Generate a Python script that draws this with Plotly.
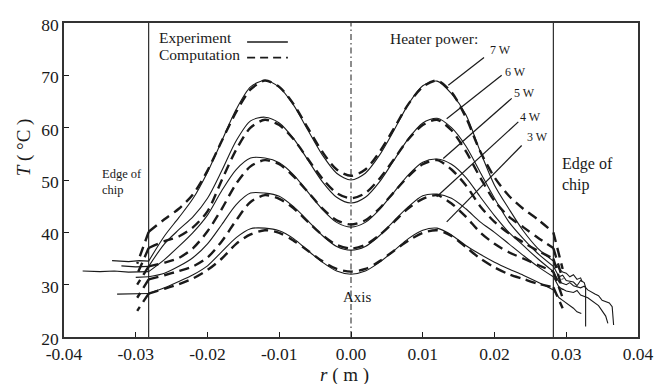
import plotly.graph_objects as go

# ---------------- data ----------------
R_GRID = [-0.0282, -0.026, -0.024, -0.022, -0.020, -0.018, -0.016, -0.014, -0.012, -0.010,
          -0.008, -0.006, -0.004, -0.002, 0.000, 0.002, 0.004, 0.006, 0.008, 0.010,
          0.012, 0.014, 0.016, 0.018, 0.020, 0.022, 0.024, 0.026, 0.0282]

POWERS = ["7 W", "6 W", "5 W", "4 W", "3 W"]

EXP_7W = [34.5, 39.3, 42.8, 46.5, 51.5, 57.5, 63.5, 67.8, 69.0, 67.7, 64.3, 59.5, 54.8, 51.3, 50.0,
          51.3, 54.8, 59.5, 64.5, 68.0, 68.9, 66.5, 62.5, 55.5, 49.0, 44.5, 40.3, 37.0, 34.5]
COMP_7W = [40.1, 42.5, 44.5, 47.3, 51.8, 57.5, 63.0, 67.3, 69.0, 67.8, 64.5, 59.9, 55.4, 52.0, 50.8,
           52.0, 55.4, 59.9, 64.5, 67.8, 69.0, 66.8, 62.0, 55.5, 50.5, 47.0, 44.5, 42.5, 40.0]
EXP_6W = [33.5, 37.8, 40.5, 43.0, 46.5, 51.8, 57.5, 61.3, 62.0, 60.9, 57.9, 53.8, 49.7, 46.7, 45.6,
          46.7, 49.7, 53.8, 57.9, 60.9, 61.8, 60.0, 56.5, 51.5, 46.5, 42.0, 38.8, 36.0, 33.5]
COMP_6W = [37.0, 38.3, 39.2, 41.0, 44.0, 50.0, 55.8, 60.0, 61.5, 60.5, 57.8, 54.0, 50.3, 47.5, 46.5,
           47.5, 50.3, 54.0, 57.8, 60.5, 61.5, 59.5, 55.5, 50.5, 46.0, 43.0, 41.0, 39.0, 37.0]
EXP_5W = [32.5, 34.8, 37.3, 40.0, 43.3, 48.0, 52.0, 54.2, 54.2, 53.3, 51.0, 47.7, 44.4, 41.9, 41.0,
          41.9, 44.4, 47.7, 51.0, 53.4, 54.0, 53.0, 50.5, 46.8, 43.2, 40.0, 37.5, 35.0, 32.5]
COMP_5W = [33.5, 34.2, 35.1, 37.0, 40.2, 44.5, 49.3, 52.6, 53.8, 53.0, 50.7, 47.7, 44.6, 42.3, 41.5,
           42.3, 44.6, 47.7, 50.7, 53.0, 53.8, 52.0, 49.0, 45.0, 42.0, 39.8, 38.1, 36.5, 35.0]
EXP_4W = [31.5, 32.2, 33.5, 35.2, 37.8, 41.5, 45.3, 47.5, 47.5, 46.9, 44.9, 42.2, 39.4, 37.3, 36.6,
          37.3, 39.4, 42.2, 44.9, 47.0, 47.3, 46.5, 44.5, 42.0, 40.0, 37.8, 35.6, 33.5, 31.5]
COMP_4W = [31.0, 31.8, 32.6, 33.5, 35.2, 38.3, 42.3, 45.8, 47.1, 46.4, 44.6, 42.0, 39.5, 37.6, 36.9,
           37.6, 39.5, 42.0, 44.6, 46.4, 47.1, 45.5, 43.0, 40.0, 37.8, 36.2, 35.0, 33.8, 32.5]
EXP_3W = [28.3, 29.4, 30.6, 31.9, 33.6, 36.3, 39.0, 40.7, 40.8, 40.3, 38.8, 36.5, 34.3, 32.6, 32.0,
          32.6, 34.3, 36.5, 38.8, 40.4, 40.8, 39.5, 37.5, 35.8, 34.3, 33.0, 31.8, 30.5, 29.0]
COMP_3W = [28.3, 29.2, 30.1, 31.2, 32.8, 35.0, 37.8, 39.6, 40.4, 39.9, 38.4, 36.5, 34.5, 33.0, 32.5,
           33.0, 34.5, 36.5, 38.4, 39.9, 40.4, 39.3, 37.2, 35.0, 33.3, 32.0, 31.1, 30.2, 29.5]

EXP_SERIES = [EXP_7W, EXP_6W, EXP_5W, EXP_4W, EXP_3W]
COMP_SERIES = [COMP_7W, COMP_6W, COMP_5W, COMP_4W, COMP_3W]

# measured traces beyond the chip edges (experiment)
EXP_LEFT_R = [[-0.0333, -0.031, -0.0295, -0.0282],
              [-0.0320, -0.030, -0.0282],
              [-0.0374, -0.035, -0.033, -0.031, -0.0282],
              [-0.0300, -0.0282],
              [-0.0326, -0.030, -0.0282]]
EXP_LEFT_T = [[34.6, 34.4, 34.6, 34.5],
              [33.6, 33.4, 33.5],
              [32.6, 32.5, 32.6, 32.4, 32.5],
              [31.4, 31.5],
              [28.2, 28.3, 28.3]]
EXP_RIGHT_R = [[0.0282, 0.029, 0.0295, 0.030, 0.0305, 0.031, 0.0315, 0.032, 0.0322],
               [0.0282, 0.029, 0.0295, 0.030, 0.031, 0.0315, 0.032, 0.0325, 0.0327, 0.0327],
               [0.0282, 0.029, 0.030, 0.0305, 0.031, 0.032, 0.0325, 0.033, 0.034, 0.0345, 0.035, 0.0355, 0.036, 0.0364, 0.0366],
               [0.0282, 0.029, 0.030, 0.031, 0.0315, 0.032, 0.033, 0.034, 0.0345, 0.035, 0.0355, 0.0358],
               [0.0282, 0.029, 0.0295, 0.030, 0.031, 0.0315, 0.0321]]
EXP_RIGHT_T = [[34.5, 33.0, 32.4, 32.2, 31.5, 31.9, 31.0, 31.3, 30.6],
               [33.5, 31.5, 31.8, 30.8, 30.5, 29.8, 30.8, 30.4, 29.5, 22.0],
               [32.5, 30.5, 30.0, 30.4, 29.8, 29.4, 29.7, 29.0, 28.2, 27.9, 27.0, 26.8, 26.5, 25.8, 22.3],
               [31.5, 29.5, 28.8, 28.5, 28.9, 28.0, 27.5, 26.5, 26.0, 25.0, 24.0, 22.6],
               [29.0, 27.5, 27.0, 26.5, 25.5, 24.8, 24.5]]

# computed curves dropping just past the chip edges
COMP_EDGE_R = [-0.0298, 0.0295]
COMP_LEFT_DROP = [34.0, 32.0, 30.0, 27.5, 25.0]
COMP_RIGHT_DROP = [33.0, 31.0, 29.0, 27.5, 25.5]

X_TICKS = [-0.04, -0.03, -0.02, -0.01, 0.0, 0.01, 0.02, 0.03, 0.04]
X_TICK_TEXT = ["-0.04", "-0.03", "-0.02", "-0.01", "0.00", "0.01", "0.02", "0.03", "0.04"]
Y_TICKS = [20, 30, 40, 50, 60, 70, 80]

CHIP_EDGE = 0.0282

# leader lines: (text-end r, T) -> (curve-end r, T)
LEADERS = [((0.01854, 73.4), (0.01356, 68.1)),
           ((0.0210, 70.0), (0.01334, 61.7)),
           ((0.0224, 65.6), (0.01286, 54.1)),
           ((0.02332, 61.1), (0.01194, 46.8)),
           ((0.02379, 56.6), (0.01334, 42.0))]
LABEL_POS = [(0.738, 0.913), (0.765, 0.843), (0.780, 0.776), (0.791, 0.700), (0.803, 0.636)]

# ---------------- figure ----------------
FONT = "Liberation Serif, Times New Roman, serif"
INK = "#1a1a1a"
DASH = "10px,6px"

fig = go.Figure()

for i in range(len(POWERS)):
    fig.add_trace(go.Scatter(x=R_GRID, y=EXP_SERIES[i], mode="lines",
                             line=dict(color=INK, width=1.1, shape="spline", smoothing=0.8),
                             showlegend=False, hoverinfo="skip"))
    fig.add_trace(go.Scatter(x=R_GRID, y=COMP_SERIES[i], mode="lines",
                             line=dict(color=INK, width=2.4, dash=DASH, shape="spline", smoothing=0.8),
                             showlegend=False, hoverinfo="skip"))
    fig.add_trace(go.Scatter(x=EXP_LEFT_R[i], y=EXP_LEFT_T[i], mode="lines",
                             line=dict(color=INK, width=1.1), showlegend=False, hoverinfo="skip"))
    fig.add_trace(go.Scatter(x=EXP_RIGHT_R[i], y=EXP_RIGHT_T[i], mode="lines",
                             line=dict(color=INK, width=1.1), showlegend=False, hoverinfo="skip"))
    fig.add_trace(go.Scatter(x=[R_GRID[0], COMP_EDGE_R[0]], y=[COMP_SERIES[i][0], COMP_LEFT_DROP[i]],
                             mode="lines", line=dict(color=INK, width=2.4, dash=DASH),
                             showlegend=False, hoverinfo="skip"))
    fig.add_trace(go.Scatter(x=[R_GRID[-1], COMP_EDGE_R[1]], y=[COMP_SERIES[i][-1], COMP_RIGHT_DROP[i]],
                             mode="lines", line=dict(color=INK, width=2.4, dash=DASH),
                             showlegend=False, hoverinfo="skip"))

shapes = []
for xe in (-CHIP_EDGE, CHIP_EDGE):
    shapes.append(dict(type="line", xref="x", yref="y", x0=xe, x1=xe, y0=20, y1=80,
                       line=dict(color=INK, width=1.1)))
shapes.append(dict(type="line", xref="x", yref="y", x0=0, x1=0, y0=20, y1=80,
                   line=dict(color=INK, width=1, dash="6px,3px,1.5px,3px")))
for (a, b) in LEADERS:
    shapes.append(dict(type="line", xref="x", yref="y", x0=a[0], y0=a[1], x1=b[0], y1=b[1],
                       line=dict(color=INK, width=1.2)))
# legend samples
shapes.append(dict(type="line", xref="paper", yref="paper", x0=0.319, x1=0.390, y0=0.9395, y1=0.9395,
                   line=dict(color=INK, width=1.4)))
shapes.append(dict(type="line", xref="paper", yref="paper", x0=0.319, x1=0.390, y0=0.890, y1=0.890,
                   line=dict(color=INK, width=1.8, dash="8px,5px")))

ann = []
def txt(x, y, s, size, xanchor="left", **kw):
    ann.append(dict(x=x, y=y, xref="paper", yref="paper", text=s, showarrow=False,
                    xanchor=xanchor, yanchor="middle", font=dict(family=FONT, size=size, color=INK), **kw))

txt(0.162, 0.953, "Experiment", 15.5)
txt(0.162, 0.900, "Computation", 15.5)
txt(0.564, 0.950, "Heater power:", 15.5)
for lab, (px, py) in zip(POWERS, LABEL_POS):
    txt(px, py, lab, 12)
txt(0.063, 0.494, "Edge of<br>chip", 12.5, align="left")
txt(0.864, 0.518, "Edge of<br>chip", 16, align="left")
txt(0.512, 0.128, "Axis", 15, xanchor="center")
txt(0.4895, -0.12, "<i>r</i> ( m )", 19, xanchor="center")
txt(-0.0697, 0.604, "<i>T</i> ( °C )", 19, xanchor="center", textangle=-90)

fig.update_layout(
    template="none",
    width=657, height=384, autosize=False,
    margin=dict(l=64, r=19, t=23, b=47),
    paper_bgcolor="white", plot_bgcolor="white",
    shapes=shapes, annotations=ann, showlegend=False,
    xaxis=dict(range=[-0.04, 0.04], tickmode="array", tickvals=X_TICKS, ticktext=X_TICK_TEXT,
               ticks="inside", ticklen=5, tickwidth=1, tickcolor=INK, automargin=False,
               showline=True, mirror=True, linecolor="#333", linewidth=1.5,
               showgrid=False, zeroline=False,
               tickfont=dict(family=FONT, size=17.5, color=INK)),
    yaxis=dict(range=[20, 80], tickmode="array", tickvals=Y_TICKS, automargin=False,
               ticklabelshift=2,
               ticks="inside", ticklen=5, tickwidth=1, tickcolor=INK,
               showline=True, mirror=True, linecolor="#333", linewidth=1.5,
               showgrid=False, zeroline=False,
               tickfont=dict(family=FONT, size=17.5, color=INK)),
)

fig.write_html("out.html")
